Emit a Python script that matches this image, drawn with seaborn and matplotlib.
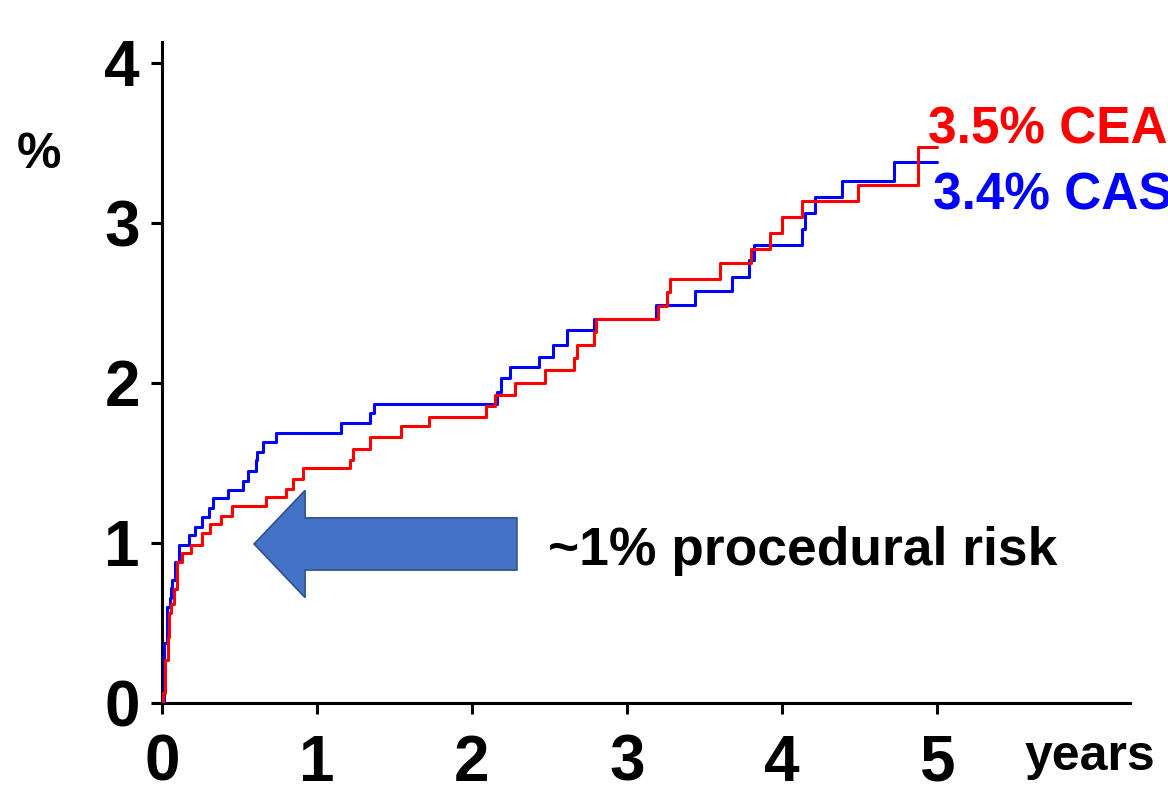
import numpy as np
import pandas as pd
import matplotlib
matplotlib.use("Agg")
import matplotlib.pyplot as plt
from matplotlib.patches import Polygon
import seaborn as sns

# ---- data ----
cas_years = [0.0, 0.01, 0.03, 0.05, 0.058, 0.065, 0.086, 0.108, 0.176, 0.213, 0.256, 0.305,
             0.327, 0.424, 0.52, 0.553, 0.606, 0.615, 0.65, 0.735, 1.153, 1.342, 1.368,
             2.16, 2.19, 2.245, 2.43, 2.52, 2.61, 2.79, 3.19, 3.44, 3.68, 3.79, 3.82,
             4.13, 4.15, 4.21, 4.385, 4.72, 5.0]
cas_pct = [0.0, 0.375, 0.60, 0.656, 0.72, 0.77, 0.88, 0.99, 1.05, 1.10, 1.16, 1.22,
           1.28, 1.33, 1.39, 1.45, 1.52, 1.57, 1.63, 1.69, 1.75, 1.81, 1.87,
           1.945, 2.03, 2.10, 2.16, 2.24, 2.33, 2.40, 2.49, 2.575, 2.66, 2.77, 2.86,
           2.96, 3.06, 3.16, 3.26, 3.38, 3.38]

cea_years = [0.0, 0.005, 0.02, 0.04, 0.047, 0.06, 0.075, 0.099, 0.127, 0.185, 0.256, 0.31,
             0.379, 0.45, 0.671, 0.80, 0.847, 0.908, 1.213, 1.234, 1.342, 1.54, 1.725,
             2.09, 2.15, 2.28, 2.47, 2.66, 2.68, 2.79, 2.80, 3.20, 3.26, 3.28, 3.60,
             3.80, 3.92, 4.00, 4.13, 4.49, 4.88, 5.0]
cea_pct = [0.0, 0.06, 0.27, 0.41, 0.56, 0.62, 0.71, 0.88, 0.94, 0.99, 1.06, 1.12,
           1.17, 1.23, 1.29, 1.34, 1.40, 1.47, 1.52, 1.59, 1.66, 1.73, 1.79,
           1.856, 1.925, 2.00, 2.08, 2.155, 2.24, 2.32, 2.40, 2.48, 2.57, 2.65, 2.75,
           2.84, 2.94, 3.04, 3.14, 3.24, 3.475, 3.475]

x_ticks = [0, 1, 2, 3, 4, 5]
y_ticks = [0, 1, 2, 3, 4]
label_cea = "3.5% CEA"
label_cas = "3.4% CAS"
annotation = "~1% procedural risk"

# ---- style ----
sns.set_style("ticks")
plt.rcParams["font.family"] = ["Liberation Sans", "DejaVu Sans"]
plt.rcParams["font.weight"] = "bold"

W, H = 1168, 785
fig = plt.figure(figsize=(W / 100, H / 100), dpi=100)
ax = fig.add_axes([162 / W, 1 - 703 / H, (1130 - 162) / W, (703 - 42) / H])

df = pd.concat([
    pd.DataFrame({"years": cea_years, "pct": cea_pct, "arm": "CEA"}),
    pd.DataFrame({"years": cas_years, "pct": cas_pct, "arm": "CAS"}),
])
sns.lineplot(data=df, x="years", y="pct", hue="arm", estimator=None, sort=False,
             palette={"CEA": "#ff0000", "CAS": "#0000ff"}, hue_order=["CAS", "CEA"],
             drawstyle="steps-post", linewidth=2.2, legend=False, ax=ax, zorder=3)

ax.set_xlim(0, (1130 - 162) / 155)
ax.set_ylim(0, (703 - 42) / 160)
ax.set_xticks(x_ticks)
ax.set_yticks(y_ticks)
ax.set_xticklabels([str(t) for t in x_ticks])
ax.set_yticklabels([str(t) for t in y_ticks])
ax.tick_params(axis="both", labelsize=46, width=2.2, length=8, direction="out",
               color="black", labelcolor="black")
ax.tick_params(axis="x", pad=14)
ax.tick_params(axis="y", pad=8)
for lab in ax.get_xticklabels() + ax.get_yticklabels():
    lab.set_fontweight("bold")
sns.despine(ax=ax)
for s in ["left", "bottom"]:
    ax.spines[s].set_linewidth(2.2)
    ax.spines[s].set_color("black")
ax.set_xlabel("")
ax.set_ylabel("")

# ---- block arrow annotation ----
tip_x, head_x, tail_x = 0.594, 0.923, 2.29
mid_y, head_half, shaft_half = 0.994, 0.335, 0.163
arrow = Polygon([(tip_x, mid_y), (head_x, mid_y + head_half), (head_x, mid_y + shaft_half),
                 (tail_x, mid_y + shaft_half), (tail_x, mid_y - shaft_half),
                 (head_x, mid_y - shaft_half), (head_x, mid_y - head_half)],
                closed=True, facecolor="#4472c4", edgecolor="#2f528f", linewidth=1.2, zorder=2)
ax.add_patch(arrow)

# ---- texts ----
def ftext(px, py, s, **kw):
    fig.text(px / W, 1 - py / H, s, fontweight="bold", va="baseline", ha="left", **kw)

ftext(548, 565, annotation, fontsize=38.4, color="black")
ftext(928, 143, label_cea, fontsize=37, color="#ff0000")
ftext(933, 210, label_cas, fontsize=37, color="#0000ff")
ftext(17, 168, "%", fontsize=36, color="black")
ftext(1025, 770, "years", fontsize=36, color="black")

fig.savefig("out.png", dpi=100)
